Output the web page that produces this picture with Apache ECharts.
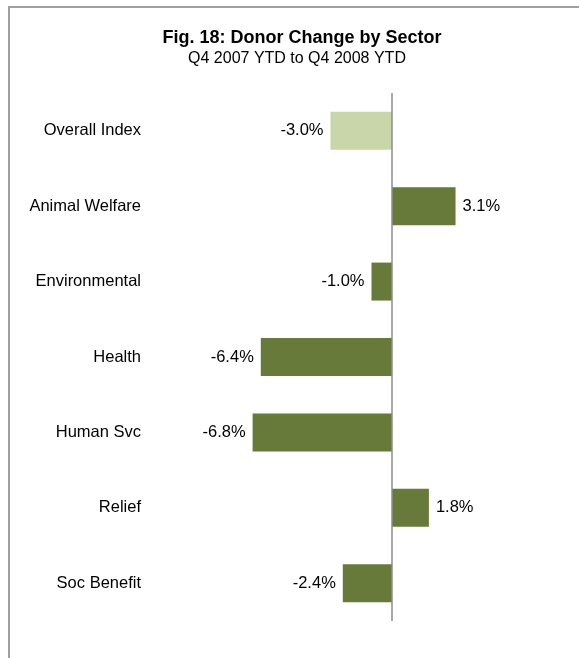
<!DOCTYPE html>
<html>
<head>
<meta charset="utf-8">
<script src="https://cdn.jsdelivr.net/npm/echarts@6/dist/echarts.min.js"></script>
<style>
  html, body { margin: 0; padding: 0; background: #fff; }
  #chart { width: 579px; height: 658px; }
</style>
</head>
<body>
<div id="chart"></div>
<script>
// Sector names, top to bottom
const sectors = ['Overall Index', 'Animal Welfare', 'Environmental', 'Health', 'Human Svc', 'Relief', 'Soc Benefit'];
// Donor change, Q4 2007 YTD to Q4 2008 YTD (percent)
const changes = [-3.0, 3.1, -1.0, -6.4, -6.8, 1.8, -2.4];

const FONT = 'Liberation Sans, Arial, sans-serif';
const OLIVE = '#677a3a';
const PALE = '#c9d6a9';

const chart = echarts.init(document.getElementById('chart'), null, { renderer: 'canvas' });

chart.setOption({
  animation: false,
  backgroundColor: '#fff',
  graphic: [{
    type: 'rect',
    shape: { x: 9, y: 7, width: 700, height: 700 },
    style: { fill: 'none', stroke: '#a0a0a0', lineWidth: 2 },
    silent: true
  }],
  title: [{
    text: 'Fig. 18: Donor Change by Sector',
    left: 297,
    top: 24,
    textAlign: 'center',
    textStyle: { fontFamily: FONT, fontSize: 18, fontWeight: 'bold', color: '#000' }
  }, {
    text: 'Q4 2007 YTD to Q4 2008 YTD',
    left: 292,
    top: 46,
    textAlign: 'center',
    textStyle: { fontFamily: FONT, fontSize: 16, fontWeight: 'normal', color: '#000' }
  }],
  grid: { left: 228, right: 64, top: 93, bottom: 37, containLabel: false },
  xAxis: {
    type: 'value',
    min: -8,
    max: 6,
    show: false
  },
  yAxis: {
    type: 'category',
    data: sectors,
    inverse: true,
    axisLine: { show: false },
    axisTick: { show: false },
    splitLine: { show: false },
    axisLabel: {
      margin: 87,
      fontFamily: FONT,
      fontSize: 16.5,
      color: '#000'
    }
  },
  series: [{
    type: 'bar',
    barWidth: 38,
    data: changes.map((v, i) => ({
      value: v,
      itemStyle: { color: i === 0 ? PALE : OLIVE },
      label: { position: v < 0 ? 'left' : 'right' }
    })),
    label: {
      show: true,
      distance: 7,
      fontFamily: FONT,
      fontSize: 16.5,
      color: '#000',
      formatter: p => p.value.toFixed(1) + '%'
    },
    markLine: {
      silent: true,
      symbol: 'none',
      label: { show: false },
      lineStyle: { color: '#8c8c8c', width: 1.5, type: 'solid' },
      data: [{ xAxis: 0 }]
    }
  }]
});
</script>
</body>
</html>
